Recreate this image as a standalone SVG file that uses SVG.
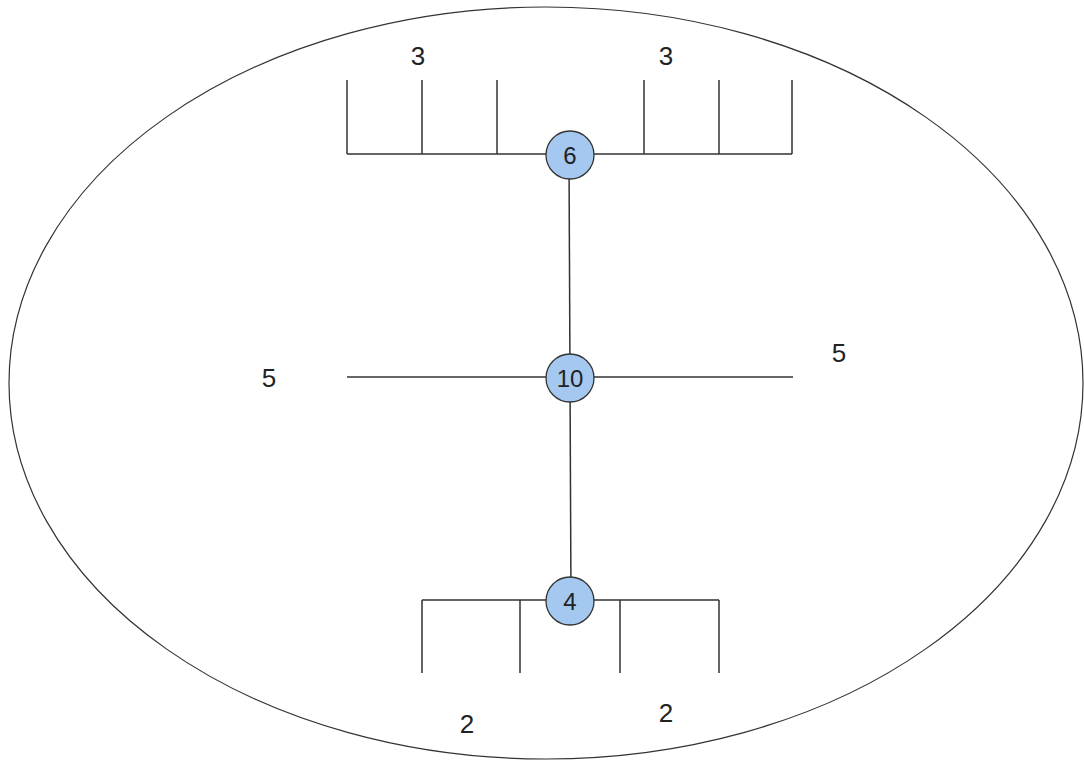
<svg xmlns="http://www.w3.org/2000/svg" width="1084" height="762" viewBox="0 0 1084 762">
<style>
.ln{stroke:#333;stroke-width:1.5;fill:none}
.nd{fill:#a4c8f0;stroke:#333;stroke-width:1.3}
.t{font-family:"Liberation Sans",Arial,sans-serif;fill:#222;text-anchor:middle}
.lb{font-size:26px}
.nt{font-size:24px}
</style>
<rect width="1084" height="762" fill="#fff"/>
<ellipse cx="546" cy="383" rx="537" ry="376" class="ln" style="stroke-width:1.2"/>
<g id="connectors">
<path class="ln" d="M347 154H792M347 80V154M422 80V154M497 80V154M644 80V154M719 80V154M792 80V154"/>
<path class="ln" d="M569 155L570 378"/>
<path class="ln" d="M347 377H793"/>
<path class="ln" d="M570 378L571 602"/>
<path class="ln" d="M422 600H719M422 600V673M520 600V673M620 600V673M719 600V673"/>
</g>
<g id="labels">
<text class="t lb" x="418" y="65">3</text>
<text class="t lb" x="666" y="65">3</text>
<text class="t lb" x="269" y="387">5</text>
<text class="t lb" x="839" y="362">5</text>
<text class="t lb" x="467" y="733">2</text>
<text class="t lb" x="666" y="722">2</text>
</g>
<g id="node6"><circle class="nd" cx="570" cy="155" r="24"/><text class="t nt" x="570" y="164">6</text></g>
<g id="node10"><circle class="nd" cx="570" cy="378" r="24"/><text class="t nt" x="570" y="387">10</text></g>
<g id="node4"><circle class="nd" cx="570" cy="601" r="24"/><text class="t nt" x="570" y="610">4</text></g>
</svg>
